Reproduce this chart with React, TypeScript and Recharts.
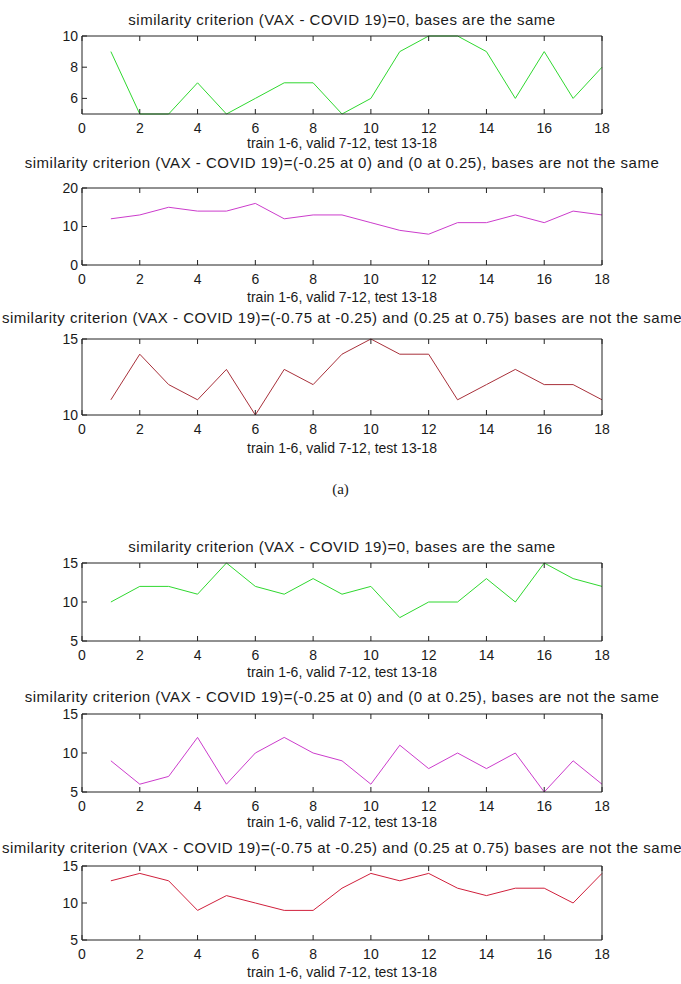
import React from 'react'
import { LineChart, Line, XAxis, YAxis } from 'recharts'

// run index on the x axis
const runs = [1, 2, 3, 4, 5, 6, 7, 8, 9, 10, 11, 12, 13, 14, 15, 16, 17, 18]
const xTicks = [0, 2, 4, 6, 8, 10, 12, 14, 16, 18]

// (a) panels
const sameA = [9, 5, 5, 7, 5, 6, 7, 7, 5, 6, 9, 10, 10, 9, 6, 9, 6, 8]
const narrowA = [12, 13, 15, 14, 14, 16, 12, 13, 13, 11, 9, 8, 11, 11, 13, 11, 14, 13]
const wideA = [11, 14, 12, 11, 13, 10, 13, 12, 14, 15, 14, 14, 11, 12, 13, 12, 12, 11]

// lower panels
const sameB = [10, 12, 12, 11, 15, 12, 11, 13, 11, 12, 8, 10, 10, 13, 10, 15, 13, 12]
const narrowB = [9, 6, 7, 12, 6, 10, 12, 10, 9, 6, 11, 8, 10, 8, 10, 5, 9, 6]
const wideB = [13, 14, 13, 9, 11, 10, 9, 9, 12, 14, 13, 14, 12, 11, 12, 12, 10, 14]

const TITLE_SAME = 'similarity criterion (VAX - COVID 19)=0, bases are the same'
const TITLE_NARROW = 'similarity criterion (VAX - COVID 19)=(-0.25 at 0) and (0 at 0.25), bases are not the same'
const TITLE_WIDE = 'similarity criterion (VAX - COVID 19)=(-0.75 at -0.25) and (0.25 at 0.75) bases are not the same'
const XLABEL = 'train 1-6, valid 7-12, test 13-18'

const AXIS = '#222'
const TEXT = '#1a1a1a'

interface PanelProps {
  top: number
  bottom: number
  titleY: number
  xlabelY: number
  title: string
  values: number[]
  color: string
  domain: [number, number]
  yTicks: number[]
}

const Panel = ({ top, bottom, titleY, xlabelY, title, values, color, domain, yTicks }: PanelProps) => {
  const data = runs.map((x, i) => ({ x, v: values[i] }))
  const T = 40
  const B = 50
  const plotH = bottom - top
  const empty = () => ''
  // ticks point inward like matlab
  return (
    <div style={{ position: 'absolute', left: 0, top: top - T }}>
      <LineChart width={681} height={T + plotH + B} data={data} margin={{ top: T - 1, right: 78, bottom: 0, left: 0 }}>
        <XAxis
          xAxisId="b"
          dataKey="x"
          type="number"
          domain={[0, 18]}
          ticks={xTicks}
          height={B}
          tickSize={5}
          tickMargin={4}
          stroke={AXIS}
          tickLine={{ transform: 'translate(0,-5)' }}
          tick={{ fill: TEXT, fontSize: 14 }}
          label={{ value: XLABEL, position: 'insideBottom', offset: B - (xlabelY - bottom) - 5, fill: TEXT, fontSize: 14 }}
        />
        <XAxis
          xAxisId="t"
          orientation="top"
          dataKey="x"
          type="number"
          domain={[0, 18]}
          ticks={xTicks}
          height={1}
          tickSize={5}
          stroke={AXIS}
          tickLine={{ transform: 'translate(0,5)' }}
          tickFormatter={empty}
          label={{ value: title, position: 'top', offset: top - titleY - 6, fill: TEXT, fontSize: 15, letterSpacing: 0.5 }}
        />
        <YAxis
          yAxisId="l"
          type="number"
          domain={domain}
          ticks={yTicks}
          width={82}
          tickSize={5}
          tickMargin={-1}
          stroke={AXIS}
          tickLine={{ transform: 'translate(5,0)' }}
          tick={{ fill: TEXT, fontSize: 14 }}
        />
        <YAxis
          yAxisId="r"
          orientation="right"
          type="number"
          domain={domain}
          ticks={yTicks}
          width={1}
          tickSize={5}
          stroke={AXIS}
          tickLine={{ transform: 'translate(-5,0)' }}
          tickFormatter={empty}
        />
        <Line
          xAxisId="b"
          yAxisId="l"
          type="linear"
          dataKey="v"
          stroke={color}
          strokeWidth={1}
          dot={false}
          isAnimationActive={false}
        />
      </LineChart>
    </div>
  )
}

export default function App() {
  return (
    <div
      style={{
        position: 'absolute',
        left: 0,
        top: 0,
        width: 681,
        height: 984,
        background: '#fff',
        overflow: 'hidden',
        fontFamily: '"Liberation Sans", Arial, sans-serif',
      }}
    >
      <Panel top={36} bottom={114} titleY={20} xlabelY={143} title={TITLE_SAME} values={sameA} color="#2fd82f" domain={[5, 10]} yTicks={[6, 8, 10]} />
      <Panel top={188} bottom={265} titleY={163} xlabelY={297} title={TITLE_NARROW} values={narrowA} color="#cc3ccc" domain={[0, 20]} yTicks={[0, 10, 20]} />
      <Panel top={339} bottom={415} titleY={318} xlabelY={448} title={TITLE_WIDE} values={wideA} color="#a8303a" domain={[10, 15]} yTicks={[10, 15]} />
      <div
        style={{
          position: 'absolute',
          left: 0,
          width: 681,
          top: 481,
          textAlign: 'center',
          fontFamily: '"Liberation Serif", "Times New Roman", serif',
          fontSize: 15,
          color: TEXT,
        }}
      >
        (a)
      </div>
      <Panel top={563} bottom={641} titleY={547} xlabelY={672} title={TITLE_SAME} values={sameB} color="#2fd82f" domain={[5, 15]} yTicks={[5, 10, 15]} />
      <Panel top={714} bottom={792} titleY={697} xlabelY={822} title={TITLE_NARROW} values={narrowB} color="#cc3ccc" domain={[5, 15]} yTicks={[5, 10, 15]} />
      <Panel top={866} bottom={940} titleY={848} xlabelY={972} title={TITLE_WIDE} values={wideB} color="#d0203c" domain={[5, 15]} yTicks={[5, 10, 15]} />
    </div>
  )
}
